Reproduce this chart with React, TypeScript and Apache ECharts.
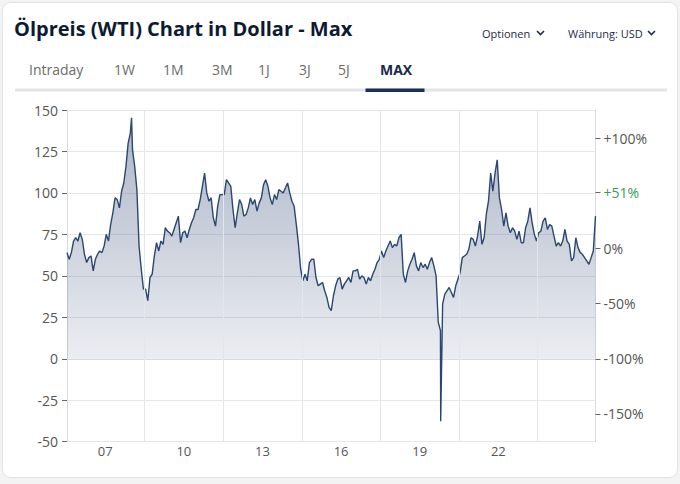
import React, { useEffect, useRef } from "react";
import * as echarts from "echarts";

// Monthly WTI prices (USD)
const y2006 = [64, 60, 64, 71, 73, 71, 76, 72, 63, 58, 61, 62];
const y2007 = [53, 60, 63, 65, 64, 68, 75, 71, 81, 88, 97, 96];
const y2008 = [91, 101, 106, 116, 130, 136, 126, 116, 102, 68, 54, 42];
const y2009 = [42, 35, 49, 51, 62, 70, 65, 71, 69, 79, 77, 76];
const y2010 = [74, 78, 82, 86, 70, 76, 77, 73, 78, 82, 85, 90];
const y2011 = [90, 96, 104, 112, 100, 95, 97, 85, 80, 92, 99, 99];
const y2012 = [99, 108, 106, 104, 90, 79, 88, 96, 93, 86, 87, 91];
const y2013 = [97, 93, 96, 89, 94, 97, 105, 108, 104, 97, 93, 99];
const y2014 = [96, 102, 101, 100, 103, 106, 100, 95, 92, 81, 69, 54];
const y2015 = [47, 51, 47, 58, 60, 60, 49, 44, 45, 46, 41, 37];
const y2016 = [31, 29, 38, 44, 48, 49, 42, 45, 47, 49, 46, 53];
const y2017 = [53, 54, 48, 50, 49, 45, 49, 47, 51, 54, 58, 60];
const y2018 = [65, 61, 65, 68, 71, 67, 69, 68, 73, 75, 51, 46];
const y2019 = [53, 57, 60, 64, 56, 53, 58, 55, 57, 54, 58, 61];
const y2020 = [56, 50, 22, 17, 33, 39, 41, 43, 40, 37, 44, 48];
const y2021 = [52, 61, 62, 63, 66, 73, 72, 68, 74, 83, 69, 73];
const y2022 = [87, 95, 112, 101, 112, 120, 97, 90, 80, 88, 80, 76];
const y2023 = [79, 77, 72, 77, 70, 70, 79, 83, 91, 82, 75, 71];
const y2024 = [76, 77, 83, 85, 78, 81, 80, 74, 68, 70, 68, 71];
const y2025 = [78, 71, 69, 59, 61, 73, 67, 64, 63, 61, 59, 57];
const y2026 = [61, 65, 86];

// Single-day extremes
const extremes: [string, number][] = [
  ["2008-07-03", 145.3],
  ["2020-04-20", -37.6],
];

const yearSeries: [number, number[]][] = [
  [2006, y2006], [2007, y2007], [2008, y2008], [2009, y2009], [2010, y2010],
  [2011, y2011], [2012, y2012], [2013, y2013], [2014, y2014], [2015, y2015],
  [2016, y2016], [2017, y2017], [2018, y2018], [2019, y2019], [2020, y2020],
  [2021, y2021], [2022, y2022], [2023, y2023], [2024, y2024], [2025, y2025],
  [2026, y2026],
];

const xLabelYears = [2007, 2010, 2013, 2016, 2019, 2022];
const xGridYears = [2009, 2012, 2015, 2018, 2021, 2024];
const pctTicks = [100, 51, 0, -50, -100, -150];
const highlightPct = 51;
const basePrice = 66.5;
const tabs = ["Intraday", "1W", "1M", "3M", "1J", "3J", "5J", "MAX"];
const tabX = [29, 114, 163, 212, 258, 299, 338, 380];

function toT(d: string) {
  const [y, m, day] = d.split("-").map(Number);
  const start = Date.UTC(y, 0, 1);
  const cur = Date.UTC(y, m - 1, day);
  return y + (cur - start) / (365 * 86400000);
}

function buildData() {
  const pts: [number, number][] = [];
  yearSeries.forEach(([yr, vals]) => {
    vals.forEach((v, m) => pts.push([yr + (m + 0.5) / 12, v]));
  });
  extremes.forEach(([d, v]) => pts.push([toT(d), v]));
  pts.sort((a, b) => a[0] - b[0]);
  return pts;
}

export default function App() {
  const ref = useRef<HTMLDivElement>(null);
  useEffect(() => {
    if (!ref.current) return;
    const chart = echarts.init(ref.current, undefined, { renderer: "svg" });
    const data = buildData();
    const tMin = data[0][0];
    const tMax = data[data.length - 1][0];
    const font = "'Open Sans', 'Noto Sans', sans-serif";
    const chevron = (x: number, y: number) => ({
      type: "polyline",
      shape: { points: [[x, y], [x + 3.5, y + 3.5], [x + 7, y]] },
      style: { stroke: "#1d2b4a", lineWidth: 1.6, fill: null },
    });
    const graphics: any[] = [
      {
        type: "rect",
        shape: { x: 2.5, y: 2.5, width: 675, height: 475, r: 8 },
        style: { fill: "#ffffff", stroke: "#e2e2e2", lineWidth: 1 },
        z: -10,
      },
      {
        type: "text",
        x: 14,
        y: 28,
        style: {
          text: "Ölpreis (WTI) Chart in Dollar - Max",
          font: `bold 20px ${font}`,
          fill: "#0e1a33",
          verticalAlign: "middle",
        },
      },
      {
        type: "text",
        x: 482,
        y: 33,
        style: { text: "Optionen", font: `11px ${font}`, fill: "#1d2b4a", verticalAlign: "middle" },
      },
      chevron(537, 31),
      {
        type: "text",
        x: 568,
        y: 33,
        style: { text: "Währung: USD", font: `11px ${font}`, fill: "#1d2b4a", verticalAlign: "middle" },
      },
      chevron(648, 31),
      {
        type: "rect",
        shape: { x: 15, y: 88.5, width: 652, height: 3 },
        style: { fill: "#e3e5ea" },
      },
      {
        type: "rect",
        shape: { x: 365.5, y: 88.5, width: 59, height: 3.5 },
        style: { fill: "#1d2f54" },
      },
      ...tabs.map((t, i) => ({
        type: "text",
        x: tabX[i],
        y: 69,
        style: {
          text: t,
          font: `${t === "MAX" ? "bold " : ""}14px ${font}`,
          fill: t === "MAX" ? "#1a2a4c" : "#6b6b6b",
          verticalAlign: "middle",
        },
      })),
    ];

    chart.setOption({
      animation: false,
      backgroundColor: "#f3f3f3",
      textStyle: { fontFamily: font },
      graphic: graphics,
      grid: { left: 67, right: 84.5, top: 110, bottom: 42.3 },
      xAxis: {
        type: "value",
        min: tMin,
        max: tMax,
        axisLine: { show: true, lineStyle: { color: "#d6d9df" } },
        axisTick: { show: false },
        splitLine: { show: false },
        axisLabel: {
          customValues: xLabelYears.map((y) => y + 0.5),
          formatter: (v: number) => String(Math.floor(v) % 100).padStart(2, "0"),
          color: "#555",
          fontSize: 13,
          margin: 3,
          fontFamily: font,
        },
      },
      yAxis: [
        {
          type: "value",
          min: -50,
          max: 150,
          interval: 25,
          position: "left",
          axisLine: { show: true, lineStyle: { color: "#d6d9df" } },
          axisTick: { show: true, length: 5, lineStyle: { color: "#666" } },
          axisLabel: { color: "#555", fontSize: 14, margin: 9, fontFamily: font },
          splitLine: { show: true, lineStyle: { color: "#e5e7ec", width: 1 } },
        },
        {
          type: "value",
          min: -50,
          max: 150,
          position: "right",
          axisLine: { show: true, lineStyle: { color: "#d6d9df" } },
          axisTick: {
            show: true,
            length: 5,
            lineStyle: { color: "#666" },
            customValues: pctTicks.map((p) => basePrice * (1 + p / 100)),
          },
          axisLabel: {
            customValues: pctTicks.map((p) => basePrice * (1 + p / 100)),
            formatter: (v: number) => {
              const p = Math.round((v / basePrice - 1) * 100);
              const s = (p > 0 ? "+" : "") + p + "%";
              return p === highlightPct ? `{g|${s}}` : s;
            },
            color: "#555",
            fontSize: 14,
            margin: 8,
            fontFamily: font,
            rich: { g: { color: "#3a9a5b", fontSize: 14, fontFamily: font } },
          },
          splitLine: { show: false },
        },
      ],
      series: [
        {
          type: "line",
          data,
          yAxisIndex: 0,
          showSymbol: false,
          symbol: "none",
          lineStyle: { color: "#2b4670", width: 1.4 },
          areaStyle: {
            color: {
              type: "linear",
              x: 0,
              y: 110,
              x2: 0,
              y2: 359,
              global: true,
              colorStops: [
                { offset: 0, color: "rgba(38,62,108,0.56)" },
                { offset: 1, color: "rgba(38,62,108,0.13)" },
              ],
            },
          },
          markLine: {
            silent: true,
            symbol: "none",
            label: { show: false },
            lineStyle: { color: "#e3e6ec", width: 1, type: "solid" },
            data: xGridYears.map((y) => ({ xAxis: y })),
          },
        },
      ],
    });
    return () => chart.dispose();
  }, []);
  return (
    <div
      ref={ref}
      style={{ position: "absolute", left: 0, top: 0, width: 680, height: 484 }}
    />
  );
}
